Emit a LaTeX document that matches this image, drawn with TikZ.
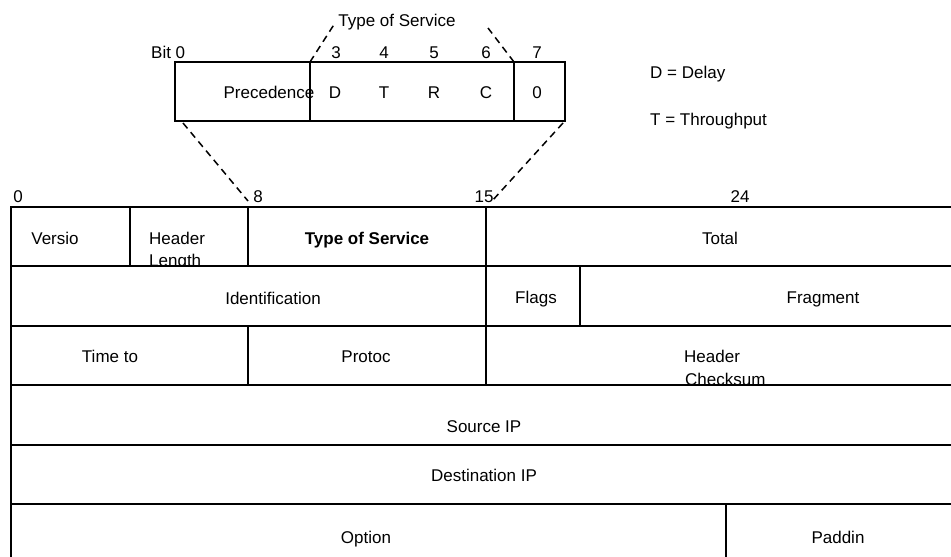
\documentclass[tikz,border=0pt]{standalone}
\usepackage{fontspec}
\setmainfont{Liberation Sans}
\begin{document}
\begin{tikzpicture}[x=1pt,y=-1pt,
  cell/.style={draw, fill=white, line width=2pt, inner sep=0pt, outer sep=0pt, anchor=north west},
  lbl/.style={inner sep=0pt, font=\fontsize{17}{20}\selectfont, text height=12.2pt, text depth=0pt},
  lblw/.style={lbl, anchor=west},
  zoomline/.style={line width=1.5pt, dash pattern=on 7pt off 5pt}]
\useasboundingbox (0,0) rectangle (951,557);

% --- expanded Type of Service byte ---
\node[cell, minimum width=135pt, minimum height=59pt] (prec) at (175,62) {};
\node[cell, minimum width=204pt, minimum height=59pt] (tosb) at (310,62) {};
\node[cell, minimum width=51pt,  minimum height=59pt] (zero) at (514,62) {};

\node[lbl] (tostitle) at (397,20) {Type of Service};
\node[lblw] (bit0) at (151,52) {Bit 0};
\node[lbl] (b3) at (336,52) {3};
\node[lbl] (b4) at (384,52) {4};
\node[lbl] (b5) at (434,52) {5};
\node[lbl] (b6) at (486,52) {6};
\node[lbl] (b7) at (537,52) {7};

\node[lbl] (tprec) at (269,92) {Precedence};
\node[lbl] (tD) at (335,92) {D};
\node[lbl] (tT) at (384,92) {T};
\node[lbl] (tR) at (434,92) {R};
\node[lbl] (tC) at (486,92) {C};
\node[lbl] (t0) at (537,92) {0};

\node[lblw] (legD) at (650,72) {D = Delay};
\node[lblw] (legT) at (650,119) {T = Throughput};

% end points of the zoom lines
\coordinate (tl) at (335,23);
\coordinate (tr) at (488,28);
\coordinate (m8) at (248,201);
\coordinate (m15) at (492,201);

\draw[zoomline] (prec.north east) -- (tl);
\draw[zoomline] (tosb.north east) -- (tr);
\draw[zoomline] ([xshift=8pt,yshift=-2pt]prec.south west) -- (m8);
\draw[zoomline] ([xshift=-2pt,yshift=-2pt]zero.south east) -- (m15);

% bit positions of the header
\node[lbl] (n0) at (18,196) {0};
\node[lbl] (n8) at (258,196) {8};
\node[lbl] (n15) at (484,196) {15};
\node[lbl] (n24) at (740,196) {24};

% --- IP header, row 1 ---
\node[cell, minimum width=119pt, minimum height=59pt] (ver) at (11,207) {};
\node[cell, minimum width=118pt, minimum height=59pt] (hl)  at (130,207) {};
\node[cell, minimum width=238pt, minimum height=59pt] (tos) at (248,207) {};
\node[cell, minimum width=466pt, minimum height=59pt] (tot) at (486,207) {};
\node[lbl] at (55,238) {Versio};
\node[lblw] at (149,238) {Header};
\node[lblw] at (149,260) {Length};
\node[lbl, font=\fontsize{17}{20}\selectfont\bfseries] at (367,238) {Type of Service};
\node[lbl] at (720,238) {Total};

% row 2
\node[cell, minimum width=475pt, minimum height=60pt] (idf) at (11,266) {};
\node[cell, minimum width=94pt,  minimum height=60pt] (flg) at (486,266) {};
\node[cell, minimum width=372pt, minimum height=60pt] (frg) at (580,266) {};
\node[lbl] at (273,298) {Identification};
\node[lbl] at (536,297) {Flags};
\node[lbl] at (823,297) {Fragment};

% row 3
\node[cell, minimum width=237pt, minimum height=59pt] (ttl) at (11,326) {};
\node[cell, minimum width=238pt, minimum height=59pt] (pro) at (248,326) {};
\node[cell, minimum width=466pt, minimum height=59pt] (hcs) at (486,326) {};
\node[lbl] at (110,356) {Time to};
\node[lbl] at (366,356) {Protoc};
\node[lblw] at (684,356) {Header};
\node[lblw] at (685,379) {Checksum};

% row 4
\node[cell, minimum width=941pt, minimum height=60pt] (src) at (11,385) {};
\node[lbl] at (484,426) {Source IP};

% row 5
\node[cell, minimum width=941pt, minimum height=59pt] (dst) at (11,445) {};
\node[lbl] at (484,475) {Destination IP};

% row 6
\node[cell, minimum width=715pt, minimum height=68pt] (opt) at (11,504) {};
\node[cell, minimum width=226pt, minimum height=68pt] (pad) at (726,504) {};
\node[lbl] at (366,537) {Option};
\node[lbl] at (838,537) {Paddin};
\end{tikzpicture}
\end{document}
